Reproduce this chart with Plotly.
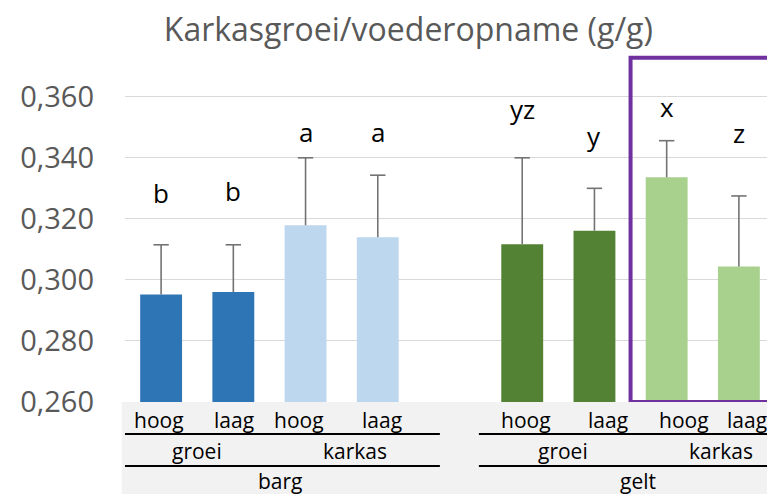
import plotly.graph_objects as go

# ---- data ----
groups = ["barg", "barg", "barg", "barg", "gelt", "gelt", "gelt", "gelt"]
periods = ["groei", "groei", "karkas", "karkas", "groei", "groei", "karkas", "karkas"]
levels = ["hoog", "laag", "hoog", "laag", "hoog", "laag", "hoog", "laag"]
values = [0.2952, 0.2960, 0.3179, 0.3140, 0.3117, 0.3161, 0.3336, 0.3044]
errors = [0.0163, 0.0155, 0.0221, 0.0203, 0.0283, 0.0139, 0.0120, 0.0231]
letters = ["b", "b", "a", "a", "yz", "y", "x", "z"]
letter_y = [0.3284, 0.3291, 0.3484, 0.3484, 0.3560, 0.3471, 0.3566, 0.3481]
y_ticks = [0.26, 0.28, 0.30, 0.32, 0.34, 0.36]
y_tick_labels = ["0,260", "0,280", "0,300", "0,320", "0,340", "0,360"]
title = "Karkasgroei/voederopname (g/g)"

# ---- styling ----
colors = {
    ("barg", "groei"): "#2E75B6",
    ("barg", "karkas"): "#BDD7EE",
    ("gelt", "groei"): "#548235",
    ("gelt", "karkas"): "#A9D18E",
}
FONT = "Open Sans"
ERR_COLOR = "#737373"
# small pixel nudges of the axis-label rows (layout only)
LEVEL_XSHIFT = [-2, 1, -7, 4, 4, 14, 17, 8]
PERIOD_XSHIFT = [0, 13, 5, 18]
GROUP_XSHIFT = [11, 7]

group_order = []
for g in groups:
    if g not in group_order:
        group_order.append(g)
# one empty slot between groups
x = [i + group_order.index(g) for i, g in enumerate(groups)]
bar_colors = [colors[(g, p)] for g, p in zip(groups, periods)]
tops = [v + e for v, e in zip(values, errors)]

fig = go.Figure()
fig.add_trace(go.Bar(
    x=x, y=values, width=0.58,
    marker=dict(color=bar_colors, line=dict(width=0)),
    error_y=dict(type="data", symmetric=False, array=errors,
                 arrayminus=[0] * len(values), width=0,
                 color=ERR_COLOR, thickness=1.6),
    showlegend=False, hoverinfo="skip",
))
fig.add_trace(go.Scatter(
    x=x, y=tops, mode="markers",
    marker=dict(symbol="line-ew-open", size=11, color=ERR_COLOR,
                line=dict(color=ERR_COLOR, width=1.6)),
    showlegend=False, hoverinfo="skip",
))

annotations = []
for xi, lt, ly in zip(x, letters, letter_y):
    annotations.append(dict(x=xi, y=ly, xref="x", yref="y", text=lt,
                            showarrow=False, font=dict(family=FONT, size=26, color="#000000")))
# category rows
for xi, lv, xs_ in zip(x, levels, LEVEL_XSHIFT):
    annotations.append(dict(x=xi, y=0, xref="x", yref="paper", text=lv, yshift=-18,
                            xshift=xs_, showarrow=False, yanchor="middle",
                            font=dict(family=FONT, size=21, color="#000000")))
seen = {}
for xi, g, p in zip(x, groups, periods):
    seen.setdefault((g, p), []).append(xi)
for ((g, p), xs), xs_ in zip(seen.items(), PERIOD_XSHIFT):
    annotations.append(dict(x=sum(xs) / len(xs), y=0, xref="x", yref="paper", text=p,
                            yshift=-49, xshift=xs_, showarrow=False, yanchor="middle",
                            font=dict(family=FONT, size=21, color="#000000")))
gseen = {}
for xi, g in zip(x, groups):
    gseen.setdefault(g, []).append(xi)
for (g, xs), xs_ in zip(gseen.items(), GROUP_XSHIFT):
    annotations.append(dict(x=sum(xs) / len(xs), y=0, xref="x", yref="paper", text=g,
                            yshift=-79, xshift=xs_, showarrow=False, yanchor="middle",
                            font=dict(family=FONT, size=21, color="#000000")))

shapes = [
    dict(type="rect", xref="paper", x0=-0.005, x1=1.0, yref="paper", ysizemode="pixel",
         yanchor=0, y0=0, y1=-95, fillcolor="#F2F2F2", line=dict(width=0), layer="below"),
]
for g, xs in gseen.items():
    x0 = min(xs) - 0.54 if g == group_order[0] else min(xs) - 0.6
    x1 = max(xs) + 0.86 if g == group_order[0] else max(xs) + 0.55
    for yp in (-32, -64):
        shapes.append(dict(type="line", xref="x", x0=x0, x1=x1, yref="paper",
                           ysizemode="pixel", yanchor=0, y0=yp, y1=yp,
                           line=dict(color="#000000", width=2)))
# highlight box around gelt karkas
shapes.append(dict(type="rect", xref="x", x0=6.5, x1=8.47, yref="y", y0=0.26, y1=0.3728,
                   line=dict(color="#7030A0", width=4), fillcolor="rgba(0,0,0,0)"))

fig.update_layout(
    width=767, height=486,
    margin=dict(l=117, r=0, t=46, b=92),
    paper_bgcolor="#FFFFFF", plot_bgcolor="#FFFFFF",
    title=dict(text=title, x=0.522, xanchor="center", y=0.955, yanchor="middle",
               font=dict(family=FONT, size=32, color="#595959")),
    xaxis=dict(range=[-0.5, 8.5], showticklabels=False, showgrid=False,
               zeroline=False, ticks=""),
    yaxis=dict(range=[0.26, 0.374], tickvals=y_ticks, ticktext=y_tick_labels,
               showgrid=True, gridcolor="#D9D9D9", gridwidth=1, zeroline=False,
               ticks="", ticklabelstandoff=30,
               tickfont=dict(family=FONT, size=29, color="#595959")),
    annotations=annotations, shapes=shapes, bargap=0.42,
)
fig.write_html("out.html")
